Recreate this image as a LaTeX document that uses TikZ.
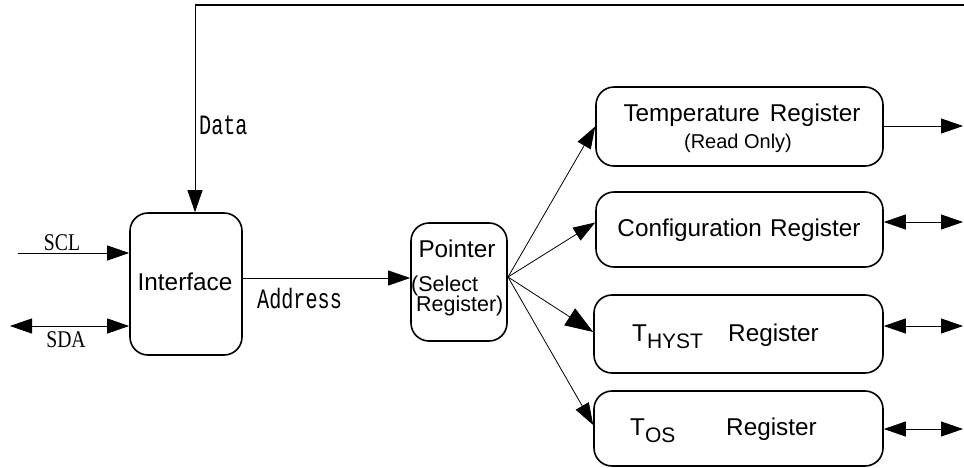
\documentclass[tikz,border=0pt]{standalone}
\usepackage{fontspec}
\setmainfont{Liberation Sans}
\newfontfamily\monof[FakeStretch=0.72]{Liberation Mono}
\newfontfamily\serf[FakeStretch=0.82]{Liberation Serif}
\usetikzlibrary{arrows.meta,calc}
\begin{document}
\begin{tikzpicture}[x=1pt,y=-1pt,
  box/.style={draw,line width=1.6pt,rounded corners=18pt,inner sep=0pt},
  conn/.style={line width=0.8pt,-{Triangle[length=22pt,width=15pt]}},
  bigconn/.style={line width=0.8pt,-{Triangle[length=28pt,width=20pt]}},
  bconn/.style={line width=0.8pt,{Triangle[length=22pt,width=15pt]}-{Triangle[length=22pt,width=15pt]}},
  txt/.style={inner sep=0pt,font=\fontsize{24.3}{27}\selectfont},
  small/.style={inner sep=0pt,font=\fontsize{20}{22}\selectfont},
  sublbl/.style={inner sep=0pt,font=\fontsize{21.5}{23}\selectfont},
  mono/.style={inner sep=0pt,font=\fontsize{28}{30}\monof},
  serif/.style={inner sep=0pt,font=\fontsize{24}{26}\serf}]
\useasboundingbox (0,0) rectangle (964,467);

% boxes
\node[box,minimum width=112pt,minimum height=142pt] (iface) at (186,284) {};
\node[box,minimum width=96pt,minimum height=118pt] (ptr) at (459,282) {};
\node[box,minimum width=287pt,minimum height=79pt] (temp) at (739.5,126.5) {};
\node[box,minimum width=287pt,minimum height=75pt] (conf) at (739.5,229.5) {};
\node[box,minimum width=289pt,minimum height=78pt] (hyst) at (738.5,334) {};
\node[box,minimum width=289pt,minimum height=75pt] (tos) at (738.5,428.5) {};

% texts
\node[txt,anchor=base] (ifacet) at (185,290) {Interface};
\node[txt,anchor=base] (ptrt) at (457,257) {Pointer};
\node[sublbl,anchor=base west] (selt) at (411,291) {(Select};
\node[sublbl,anchor=base west] (regt) at (416,311) {Register)};
\node[txt,anchor=base] (tempt) at (742,121) {Temperature\hspace{10pt}Register};
\node[small,anchor=base] (rot) at (738,148) {(Read Only)};
\node[txt,anchor=base] (conft) at (739,236) {Configuration\hspace{8pt}Register};
\node[txt,anchor=base west] (hystT) at (632,341) {T\raisebox{-7pt}{\fontsize{21}{22}\selectfont HYST}};
\node[txt,anchor=base west] (hystR) at (728,341) {Register};
\node[txt,anchor=base west] (tosT) at (630,435) {T\raisebox{-7pt}{\fontsize{21}{22}\selectfont OS}};
\node[txt,anchor=base west] (tosR) at (726,435) {Register};

\node[serif,anchor=base] (sclt) at (62,250) {SCL};
\node[serif,anchor=base] (sdat) at (66,347) {SDA};
\node[mono,anchor=base west] (datat) at (199,134) {Data};
\node[mono,anchor=base west] (addrt) at (257,308) {Address};

% free ends
\coordinate (sclin) at (18,253);
\coordinate (sdaout) at (10,326);
\coordinate (topR) at (964,5);
\coordinate (topL) at (195,5);
\coordinate (tempo) at (963,126);
\coordinate (confo) at (963,222);
\coordinate (hysto) at (963,326);
\coordinate (toso) at (963,429);
\coordinate (fan) at (508,277);

% connectors
\draw[conn] (sclin) -- (sclin -| iface.west);
\draw[bconn] (sdaout) -- (sdaout -| iface.west);
\draw[line width=1.2pt] (topR) -- (topL);
\draw[conn] (topL) -- (topL |- iface.north);
\draw[conn] (iface.east |- 0,278) -- (ptr.west |- 0,278);

\draw[conn] (fan) -- (temp.west);
\draw[conn] (fan) -- ($(conf.west)+(0,-7)$);
\draw[bigconn] (fan) -- ($(hyst.west)+(0,-2)$);
\draw[conn] (fan) -- ($(tos.west)+(0,-3.5)$);

\draw[conn] (tempo -| temp.east) -- (tempo);
\draw[bconn] (confo -| conf.east) -- (confo);
\draw[bconn] (hysto -| hyst.east) -- (hysto);
\draw[bconn] (toso -| tos.east) -- (toso);
\end{tikzpicture}
\end{document}
